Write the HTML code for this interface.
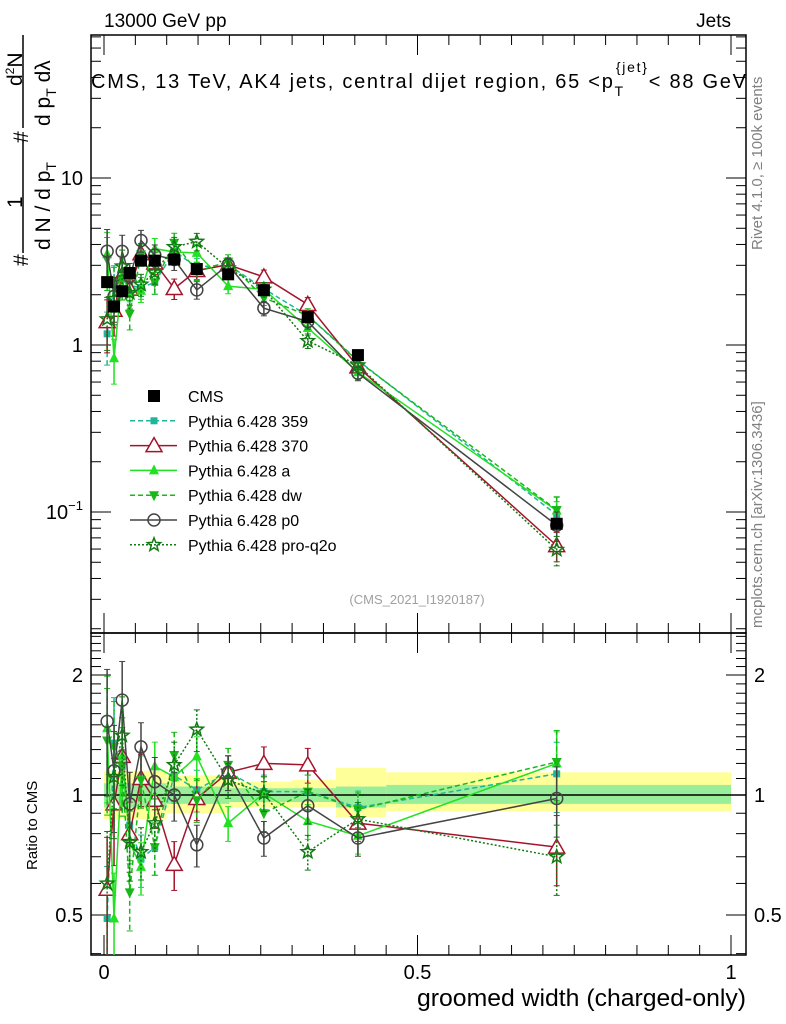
<!DOCTYPE html>
<html><head><meta charset="utf-8"><style>
html,body{margin:0;padding:0;background:#fff;}
svg{display:block;font-family:"Liberation Sans",sans-serif;}
</style></head><body>
<svg id="c" width="786" height="1024" viewBox="0 0 786 1024" xmlns="http://www.w3.org/2000/svg">
<g id="bands"></g>
<g id="frames"></g>
<g id="series"></g>
<g id="legend"></g>
<text x="104" y="27" font-size="19">13000 GeV pp</text>
<text x="731" y="27" font-size="19" text-anchor="end">Jets</text>
<text x="91" y="88" font-size="20" textLength="655" lengthAdjust="spacing">CMS, 13 TeV, AK4 jets, central dijet region, 65 &lt;p<tspan font-size="14" dy="8">T</tspan><tspan font-size="14" dy="-24" dx="-9">{jet}</tspan><tspan dy="16">&lt; 88 GeV</tspan></text>
<text x="417" y="604" font-size="13" fill="#a0a0a0" text-anchor="middle">(CMS_2021_I1920187)</text>
<text transform="translate(762,250) rotate(-90)" font-size="15" fill="#808080">Rivet 4.1.0, ≥ 100k events</text>
<text transform="translate(762,628) rotate(-90)" font-size="15" fill="#808080">mcplots.cern.ch [arXiv:1306.3436]</text>
<g font-size="21">
<text transform="translate(28,266) rotate(-90)">#</text>
<text transform="translate(22,208) rotate(-90)">1</text>
<line x1="23" y1="253" x2="23" y2="140" stroke="#000" stroke-width="1.5"/>
<text transform="translate(50,250) rotate(-90)">d N / d p<tspan font-size="14" dy="6">T</tspan></text>
<text transform="translate(28,143) rotate(-90)">#</text>
<text transform="translate(22,86) rotate(-90)">d<tspan font-size="12" dy="-8">2</tspan><tspan dy="8">N</tspan></text>
<line x1="23" y1="128" x2="23" y2="35" stroke="#000" stroke-width="1.5"/>
<text transform="translate(50,126) rotate(-90)">d p<tspan font-size="14" dy="6">T</tspan><tspan dy="-6"> dλ</tspan></text>
</g>
<text transform="translate(37,870) rotate(-90)" font-size="15">Ratio to CMS</text>
<text x="417" y="1006" font-size="24" textLength="329" lengthAdjust="spacingAndGlyphs">groomed width (charged-only)</text>
</svg>
<script>
const xVals=[0.005,0.016,0.029,0.041,0.059,0.081,0.112,0.148,0.198,0.255,0.325,0.405,0.722];
const cmsVals=[2.38,1.7,2.1,2.7,3.2,3.2,3.25,2.85,2.65,2.13,1.47,0.87,0.085];
const errFrac=[0.35,0.3,0.25,0.2,0.15,0.15,0.14,0.12,0.1,0.1,0.1,0.1,0.2];
const r359=[0.49,1.35,1.18,0.84,0.69,0.74,1.12,1.03,1.14,1.02,1.02,0.93,1.13];
const r370=[0.58,0.95,1.25,0.80,1.1,0.97,0.67,0.98,1.14,1.2,1.19,0.85,0.74];
const rA=[1.47,0.49,1.25,0.76,0.66,1.18,1.11,1.25,0.85,1.01,0.86,0.79,1.2];
const rDW=[1.37,1.32,1.18,0.57,1.09,0.74,1.26,0.97,1.19,0.9,1.02,0.92,1.21];
const rP0=[1.53,1.15,1.73,0.95,1.32,1.08,1.0,0.75,1.14,0.78,0.94,0.78,0.98];
const rQ2O=[0.6,1.11,1.41,0.76,0.72,0.85,1.19,1.46,1.09,1.01,0.72,0.87,0.7];
const bandEdges=[0,0.1,0.2,0.3,0.37,0.45,1.0];
const yelLo=[0.87,0.9,0.93,0.93,0.88,0.91];
const yelHi=[1.15,1.12,1.08,1.09,1.17,1.14];
const grnLo=[0.93,0.95,0.96,0.96,0.93,0.95];
const grnHi=[1.07,1.05,1.04,1.04,1.05,1.06];
const legendLabels=["CMS","Pythia 6.428 359","Pythia 6.428 370","Pythia 6.428 a","Pythia 6.428 dw","Pythia 6.428 p0","Pythia 6.428 pro-q2o"];

const NS="http://www.w3.org/2000/svg";
const L=91,R=746,T=35,M=633,B=955;
const X=v=>104+627*v;
const Y=v=>345-167*Math.log10(v);
const RY=v=>795-120*Math.log2(v);
function mk(p,tag,a){const e=document.createElementNS(NS,tag);for(const k in a)e.setAttribute(k,a[k]);p.appendChild(e);return e;}
const bands=document.getElementById('bands'),frames=document.getElementById('frames'),ser=document.getElementById('series'),leg=document.getElementById('legend');

for(let i=0;i<yelLo.length;i++){
 const x1=X(bandEdges[i]),x2=X(bandEdges[i+1]);
 const y=mk(bands,'rect',{x:x1,y:RY(yelHi[i]),width:x2-x1,height:RY(yelLo[i])-RY(yelHi[i]),fill:'#ffff99'});
 
 
 const g=mk(bands,'rect',{x:x1,y:RY(grnHi[i]),width:x2-x1,height:RY(grnLo[i])-RY(grnHi[i]),fill:'#99ee99'});
 
 
}
mk(frames,'line',{x1:L,y1:RY(1),x2:R,y2:RY(1),stroke:'#000','stroke-width':1.5});
mk(frames,'rect',{x:L,y:T,width:R-L,height:M-T,fill:'none',stroke:'#000','stroke-width':1.5});
mk(frames,'rect',{x:L,y:M,width:R-L,height:B-M,fill:'none',stroke:'#000','stroke-width':1.5});
for(let d=-2;d<=1;d++)for(let k=1;k<10;k++){const v=k*Math.pow(10,d);const y=Y(v);if(y<T||y>M)continue;const len=k==1?20:10;
 mk(frames,'line',{x1:L,y1:y,x2:L+len,y2:y,stroke:'#000'});mk(frames,'line',{x1:R,y1:y,x2:R-len,y2:y,stroke:'#000'});}
[[10,'10'],[1,'1']].forEach(([v,t])=>{const e=mk(frames,'text',{x:L-8,y:Y(v)+7,'font-size':20,'text-anchor':'end'});e.textContent=t;});
const tm=mk(frames,'text',{x:L-8,y:Y(0.1)+7,'font-size':20,'text-anchor':'end'});tm.innerHTML='10<tspan font-size="13" dy="-9">−1</tspan>';
for(let v=0.4;v<=2.55;v+=0.1){const vv=Math.round(v*10)/10;const y=RY(vv);if(y<M||y>B)continue;const maj=(vv==0.5||vv==1||vv==2);const len=maj?20:10;
 mk(frames,'line',{x1:L,y1:y,x2:L+len,y2:y,stroke:'#000'});mk(frames,'line',{x1:R,y1:y,x2:R-len,y2:y,stroke:'#000'});}
[[2,'2'],[1,'1'],[0.5,'0.5']].forEach(([v,t])=>{let e=mk(frames,'text',{x:L-8,y:RY(v)+7,'font-size':20,'text-anchor':'end'});e.textContent=t;
 e=mk(frames,'text',{x:R+8,y:RY(v)+7,'font-size':20});e.textContent=t;});
for(let i=0;i<=20;i++){const v=i*0.05;const x=X(v);const len=(i%10==0)?20:10;
 [[T,1],[M,1],[M,-1],[B,-1]].forEach(([y0,s])=>mk(frames,'line',{x1:x,y1:y0,x2:x,y2:y0+s*len,stroke:'#000'}));}
[[0,'0'],[0.5,'0.5'],[1,'1']].forEach(([v,t])=>{const e=mk(frames,'text',{x:X(v),y:979,'font-size':20,'text-anchor':'middle'});e.textContent=t;});

function marker(g,type,x,y,col){
 if(type=='sqbig')return mk(g,'rect',{x:x-6,y:y-6,width:12,height:12,fill:col});
 if(type=='sq')return mk(g,'rect',{x:x-3.5,y:y-3.5,width:7,height:7,fill:col});
 if(type=='tri')return mk(g,'path',{d:`M${x},${y-8}L${x+8},${y+6}L${x-8},${y+6}Z`,fill:'#fff',stroke:col,'stroke-width':1.5});
 if(type=='trif')return mk(g,'path',{d:`M${x},${y-6}L${x+5},${y+4}L${x-5},${y+4}Z`,fill:col});
 if(type=='trid')return mk(g,'path',{d:`M${x},${y+6}L${x+5},${y-4}L${x-5},${y-4}Z`,fill:col});
 if(type=='circ')return mk(g,'circle',{cx:x,cy:y,r:6,fill:'none',stroke:col,'stroke-width':1.5});
 if(type=='star'){let d='';for(let i=0;i<10;i++){const a=-Math.PI/2+i*Math.PI/5,r=i%2?3:7;d+=(i?'L':'M')+(x+r*Math.cos(a))+','+(y+r*Math.sin(a));}return mk(g,'path',{d:d+'Z',fill:'none',stroke:col,'stroke-width':1.5});}
}
const defs=[
 {name:'pythia-359',r:r359,col:'#1fb59a',dash:'5,3',m:'sq'},
 {name:'pythia-370',r:r370,col:'#a3142c',dash:'',m:'tri'},
 {name:'pythia-a',r:rA,col:'#22e022',dash:'',m:'trif'},
 {name:'pythia-dw',r:rDW,col:'#18b818',dash:'5,3',m:'trid'},
 {name:'pythia-p0',r:rP0,col:'#444444',dash:'',m:'circ'},
 {name:'pythia-pro-q2o',r:rQ2O,col:'#137a13',dash:'2,2',m:'star'}];
function clampY(y,lo,hi){return Math.max(lo,Math.min(hi,y));}
defs.forEach(s=>{
 const g=mk(ser,'g',{});
 
 
 const vals=cmsVals.map((c,i)=>c*s.r[i]);
 const pts=vals.map((v,i)=>X(xVals[i])+','+Y(v)).join(' ');
 mk(g,'polyline',{points:pts,fill:'none',stroke:s.col,'stroke-width':1.5,'stroke-dasharray':s.dash});
 const rpts=s.r.map((v,i)=>X(xVals[i])+','+clampY(RY(v),M,B)).join(' ');
 mk(g,'polyline',{points:rpts,fill:'none',stroke:s.col,'stroke-width':1.5,'stroke-dasharray':s.dash});
 vals.forEach((v,i)=>{const x=X(xVals[i]);const e=errFrac[i];
  const y1=Y(v*(1+e)),y2=Y(v*(1-e));
  mk(g,'line',{x1:x,y1:y1,x2:x,y2:y2,stroke:s.col,'stroke-width':1.5,'stroke-dasharray':s.dash});
  mk(g,'line',{x1:x-3,y1:y1,x2:x+3,y2:y1,stroke:s.col});mk(g,'line',{x1:x-3,y1:y2,x2:x+3,y2:y2,stroke:s.col});
  const m=marker(g,s.m,x,Y(v),s.col);
  
  
  const rv=s.r[i];const ry1=clampY(RY(rv*(1+e)),M,B),ry2=clampY(RY(rv*(1-e)),M,B);
  mk(g,'line',{x1:x,y1:ry1,x2:x,y2:ry2,stroke:s.col,'stroke-width':1.5,'stroke-dasharray':s.dash});
  if(ry1>M)mk(g,'line',{x1:x-3,y1:ry1,x2:x+3,y2:ry1,stroke:s.col});
  if(ry2<B)mk(g,'line',{x1:x-3,y1:ry2,x2:x+3,y2:ry2,stroke:s.col});
  const ry=RY(rv);if(ry>M&&ry<B){const rm=marker(g,s.m,x,ry,s.col);
   
   }
 });
});
const cg=mk(ser,'g',{});


cmsVals.forEach((v,i)=>{const x=X(xVals[i]);
 mk(cg,'line',{x1:x,y1:Y(v*1.05),x2:x,y2:Y(v*0.95),stroke:'#000'});
 const m=marker(cg,'sqbig',x,Y(v),'#000');
 
 });
const legM=['sqbig','sq','tri','trif','trid','circ','star'];
const legC=['#000'].concat(defs.map(d=>d.col));
const legD=[''].concat(defs.map(d=>d.dash));
legendLabels.forEach((t,i)=>{const y=396+i*24.8;const g=mk(leg,'g',{});
 
 
 if(i>0)mk(g,'line',{x1:130,y1:y,x2:177,y2:y,stroke:legC[i],'stroke-width':1.5,'stroke-dasharray':legD[i]});
 marker(g,legM[i],154,y,legC[i]);
 const e=mk(g,'text',{x:188,y:y+6,'font-size':16});e.textContent=t;});
</script>
</body></html>
